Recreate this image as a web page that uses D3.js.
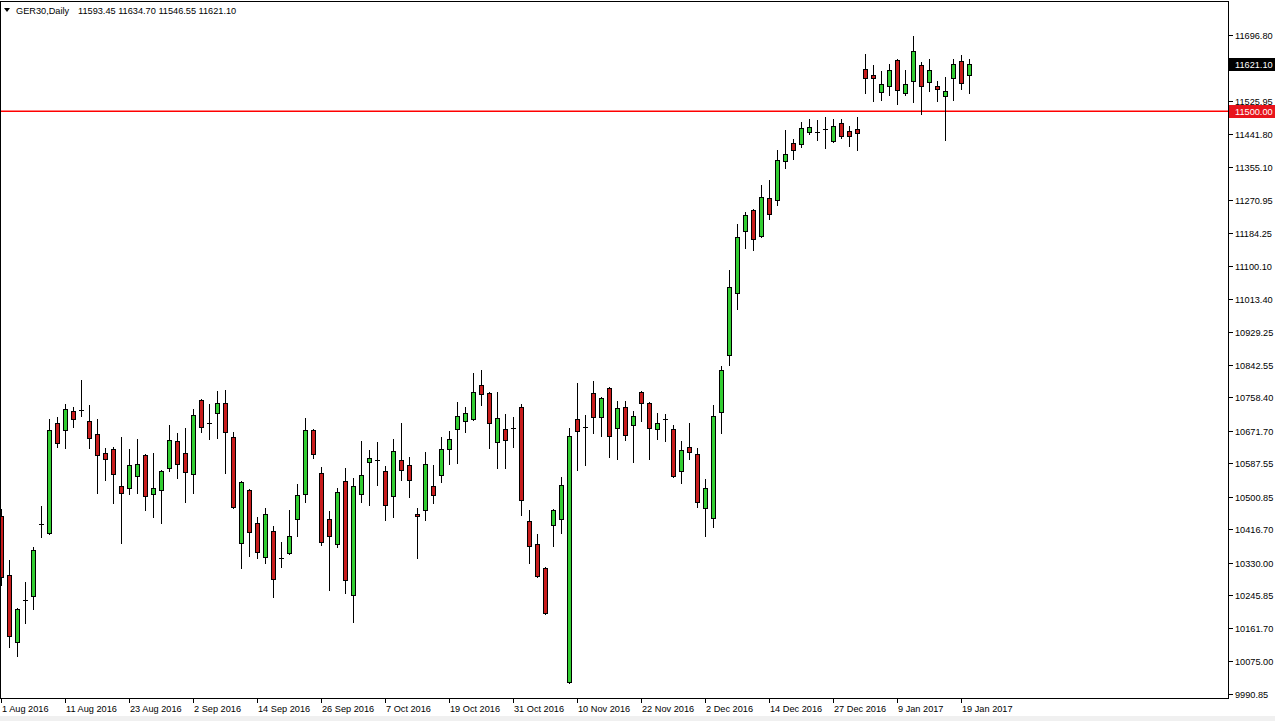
<!DOCTYPE html>
<html>
<head>
<meta charset="utf-8">
<script src="https://cdn.jsdelivr.net/npm/d3@7"></script>
<style>
  html, body { margin: 0; padding: 0; background: #ffffff; }
  svg { display: block; }
  text { font-family: "Liberation Sans", "DejaVu Sans", sans-serif; }
</style>
</head>
<body>
<svg id="chart" width="1275" height="721"></svg>
<script>
// ---------------- DATA ----------------
const symbol = "GER30,Daily";
const opens = [10451.6,10298.9,10125.5,10234.2,10244.5,10430.9,10407.6,10692.4,10674.3,10723.4,
10726.0,10697.6,10663.9,10614.7,10625.1,10529.3,10524.1,10555.2,10609.5,10508.6,
10518.9,10575.9,10645.8,10614.7,10560.4,10751.9,10692.4,10718.3,10744.2,10656.1,
10381.7,10518.9,10433.5,10345.5,10412.8,10342.9,10355.9,10443.9,10508.6,10674.3,
10562.9,10443.9,10379.2,10542.2,10247.1,10508.6,10591.4,10596.6,10568.1,10503.4,
10596.6,10583.7,10456.8,10467.2,10529.3,10557.8,10625.1,10676.9,10697.6,10702.7,
10790.8,10770.0,10643.2,10676.9,10679.4,10733.8,10438.7,10379.2,10317.0,10428.3,
10443.9,10021.9,10702.7,10682.0,10770.0,10707.9,10783.0,10679.4,10733.8,10687.2,
10772.6,10744.2,10676.9,10702.7,10676.9,10568.1,10630.3,10612.1,10472.3,10446.5,
10720.9,10868.4,11028.9,11189.4,11243.8,11176.5,11274.8,11269.7,11370.6,11417.2,
11414.6,11445.7,11445.7,11453.5,11422.4,11469.0,11448.3,11453.5,11608.8,11593.3,
11549.2,11564.8,11632.1,11546.7,11577.7,11619.1,11575.1,11564.8,11538.9,11585.5,
11629.5,11593.45];
const highs = [10469.8,10337.7,10213.5,10280.8,10371.4,10477.5,10702.7,10707.9,10741.6,10733.8,
10803.7,10739.0,10702.7,10627.7,10630.3,10656.1,10625.1,10651.0,10612.1,10614.7,
10570.7,10687.2,10666.5,10679.4,10728.6,10754.5,10741.6,10775.2,10777.8,10669.1,
10542.2,10521.5,10449.0,10472.3,10425.7,10384.3,10467.2,10534.5,10705.3,10676.9,
10578.5,10464.6,10524.1,10575.9,10550.0,10645.8,10622.5,10643.2,10581.1,10651.0,
10692.4,10604.4,10472.3,10617.3,10583.7,10656.1,10671.7,10746.7,10733.8,10821.8,
10829.6,10772.6,10772.6,10715.7,10707.9,10741.6,10467.2,10405.0,10319.6,10469.8,
10552.6,10679.4,10795.9,10713.1,10801.1,10759.7,10785.6,10749.3,10749.3,10723.4,
10775.2,10746.7,10718.3,10715.7,10687.2,10645.8,10692.4,10627.7,10547.4,10739.0,
10839.9,11088.5,11207.5,11238.6,11246.4,11308.5,11321.4,11399.1,11450.9,11427.6,
11471.6,11479.3,11476.8,11484.5,11479.3,11479.3,11461.2,11484.5,11647.6,11619.1,
11603.6,11621.7,11634.7,11606.2,11694.2,11626.9,11634.7,11577.7,11588.1,11634.7,
11645.0,11634.70];
const lows = [10273.0,10112.5,10089.2,10174.6,10210.9,10397.3,10405.0,10630.3,10627.7,10682.0,
10710.5,10627.7,10511.2,10544.8,10485.3,10381.7,10508.6,10511.2,10467.2,10449.0,
10433.5,10568.1,10550.0,10487.9,10511.2,10669.1,10651.0,10653.6,10562.9,10472.3,
10317.0,10348.1,10342.9,10330.0,10242.0,10319.6,10353.3,10399.9,10487.9,10601.8,
10376.6,10260.1,10371.4,10252.3,10177.2,10487.9,10480.1,10531.9,10441.3,10449.0,
10544.8,10500.8,10342.9,10441.3,10485.3,10539.6,10586.2,10588.8,10669.1,10700.2,
10739.0,10627.7,10575.9,10575.9,10630.3,10454.2,10330.0,10293.7,10197.9,10374.0,
10407.6,10019.3,10570.7,10583.7,10666.5,10658.7,10604.4,10599.2,10648.4,10591.4,
10697.6,10599.2,10651.0,10645.8,10552.6,10537.1,10599.2,10474.9,10399.9,10423.2,
10666.5,10842.5,10987.5,11145.4,11140.2,11173.9,11220.5,11256.7,11352.5,11375.8,
11406.9,11440.5,11425.0,11404.3,11419.8,11430.2,11409.5,11399.1,11546.7,11525.9,
11528.5,11541.5,11518.2,11541.5,11523.4,11492.3,11551.8,11525.9,11425.0,11528.5,
11557.0,11546.55];
const closes = [10293.7,10141.0,10210.9,10234.2,10363.6,10430.9,10674.3,10640.6,10728.6,10702.7,
10726.0,10653.6,10609.5,10599.2,10560.4,10511.2,10583.7,10586.2,10503.4,10524.1,
10568.1,10648.4,10586.2,10565.5,10713.1,10682.0,10692.4,10744.2,10669.1,10474.9,
10539.6,10410.2,10358.4,10456.8,10288.5,10342.9,10399.9,10506.0,10674.3,10612.1,
10384.3,10399.9,10513.8,10286.0,10529.3,10557.8,10601.8,10596.6,10480.1,10619.9,
10570.7,10544.8,10451.6,10586.2,10506.0,10625.1,10651.0,10710.5,10718.3,10772.6,
10767.5,10692.4,10705.3,10648.4,10679.4,10493.1,10374.0,10296.3,10200.5,10467.2,
10531.9,10658.7,10671.7,10682.0,10707.9,10757.1,10658.7,10731.2,10661.3,10710.5,
10744.2,10679.4,10692.4,10702.7,10555.2,10622.5,10617.3,10487.9,10524.1,10710.5,
10829.6,11044.4,11173.9,11230.8,11168.7,11277.4,11233.4,11373.2,11388.7,11399.1,
11456.1,11458.6,11445.7,11453.5,11461.2,11435.3,11435.3,11443.1,11585.5,11585.5,
11570.0,11606.2,11554.4,11570.0,11655.4,11564.8,11606.2,11557.0,11551.8,11621.7,
11572.5,11621.10];

const xTickIndex  = [0,8,16,24,32,40,48,56,64,72,80,88,96,104,112,120];
const xTickLabels = ["1 Aug 2016","11 Aug 2016","23 Aug 2016","2 Sep 2016","14 Sep 2016","26 Sep 2016",
  "7 Oct 2016","19 Oct 2016","31 Oct 2016","10 Nov 2016","22 Nov 2016","2 Dec 2016",
  "14 Dec 2016","27 Dec 2016","9 Jan 2017","19 Jan 2017"];
const yTickValues = [9990.85,10075.00,10161.70,10245.85,10330.00,10416.70,10500.85,10587.55,
  10671.70,10758.40,10842.55,10929.25,11013.40,11100.10,11184.25,11270.95,11355.10,
  11441.80,11525.95,11696.80];
const hLineLevel = 11500.00;

// ---------------- LAYOUT ----------------
const W = 1275, H = 721;
const plot = { left: 0, top: 1, right: 1228, bottom: 698 };
const FS = "9.2px";
const svg = d3.select("#chart");

const n = closes.length;
const x = d3.scaleLinear().domain([0, n - 1]).range([1, 1 + 8 * (n - 1)]);
const y = d3.scaleLinear().domain([9990.85, 11696.80]).range([694, 35]);

const GREEN = "#32cd32", RED = "#c81c1c", EDGE = "#000000";

svg.append("rect").attr("width", W).attr("height", H).attr("fill", "#ffffff");
svg.append("rect").attr("x", 0).attr("y", 716).attr("width", W).attr("height", 5).attr("fill", "#f0f0f0");

svg.append("clipPath").attr("id", "pclip").append("rect")
  .attr("x", plot.left + 1).attr("y", plot.top + 1)
  .attr("width", plot.right - plot.left - 1).attr("height", plot.bottom - plot.top - 1);

const g = svg.append("g").attr("clip-path", "url(#pclip)");

// horizontal level line
g.append("rect")
  .attr("x", plot.left).attr("width", plot.right - plot.left)
  .attr("y", Math.round(y(hLineLevel)) - 0.5).attr("height", 1.5)
  .attr("fill", "#ff0000");

const idx = d3.range(n);
const py = v => Math.round(y(v));

// wicks
g.selectAll("line.wick").data(idx).join("line").attr("class", "wick")
  .attr("x1", i => Math.round(x(i)) + 0.5).attr("x2", i => Math.round(x(i)) + 0.5)
  .attr("y1", i => py(highs[i])).attr("y2", i => py(lows[i]) + 1)
  .attr("stroke", EDGE).attr("stroke-width", 1);

// bodies
const bodyIdx = idx.filter(i => Math.abs(py(opens[i]) - py(closes[i])) >= 1);
g.selectAll("rect.body").data(bodyIdx).join("rect").attr("class", "body")
  .attr("x", i => Math.round(x(i)) - 1.5)
  .attr("y", i => Math.min(py(opens[i]), py(closes[i])) + 0.5)
  .attr("width", 4)
  .attr("height", i => Math.abs(py(opens[i]) - py(closes[i])))
  .attr("fill", i => closes[i] >= opens[i] ? GREEN : RED)
  .attr("stroke", EDGE).attr("stroke-width", 1);

// doji
const dojiIdx = idx.filter(i => Math.abs(py(opens[i]) - py(closes[i])) < 1);
g.selectAll("line.doji").data(dojiIdx).join("line").attr("class", "doji")
  .attr("x1", i => Math.round(x(i)) - 2).attr("x2", i => Math.round(x(i)) + 3)
  .attr("y1", i => py(closes[i]) + 0.5).attr("y2", i => py(closes[i]) + 0.5)
  .attr("stroke", EDGE).attr("stroke-width", 1);

// frame
svg.append("rect")
  .attr("x", plot.left + 0.5).attr("y", plot.top + 0.5)
  .attr("width", plot.right - plot.left).attr("height", plot.bottom - plot.top)
  .attr("fill", "none").attr("stroke", "#000").attr("stroke-width", 1);

// y axis ticks & labels
const yAxis = svg.append("g");
yTickValues.forEach(v => {
  const yy = py(v) + 0.5;
  yAxis.append("line").attr("x1", plot.right + 1).attr("x2", plot.right + 5)
    .attr("y1", yy).attr("y2", yy).attr("stroke", "#000");
  yAxis.append("text").attr("x", 1235).attr("y", yy + 3.5)
    .attr("font-size", FS).attr("fill", "#000").text(v.toFixed(2));
});

// price tags
function tag(v, bg) {
  const yy = py(v) + 0.5;
  svg.append("rect").attr("x", plot.right + 1).attr("y", yy - 6.5)
    .attr("width", W - plot.right - 1).attr("height", 13).attr("fill", bg);
  svg.append("text").attr("x", 1235).attr("y", yy + 3.5)
    .attr("font-size", FS).attr("fill", "#fff").text(v.toFixed(2));
}
tag(hLineLevel, "#e8141c");
tag(closes[n - 1], "#000000");

// x axis ticks & labels
const xAxis = svg.append("g");
xTickIndex.forEach((ti, k) => {
  const xx = Math.round(x(ti)) + 0.5;
  xAxis.append("line").attr("x1", xx).attr("x2", xx)
    .attr("y1", plot.bottom + 1).attr("y2", plot.bottom + 5).attr("stroke", "#000");
  xAxis.append("text").attr("x", xx + 0.5).attr("y", 712)
    .attr("font-size", FS).attr("fill", "#000").text(xTickLabels[k]);
});

// header
svg.append("path").attr("d", "M4,8 L10,8 L7,12 Z").attr("fill", "#000");
svg.append("text").attr("x", 16).attr("y", 14).attr("font-size", FS).attr("fill", "#000")
  .text(symbol);
svg.append("text").attr("x", 78).attr("y", 14).attr("font-size", FS).attr("fill", "#000")
  .text([opens[n-1], highs[n-1], lows[n-1], closes[n-1]].map(v => v.toFixed(2)).join(" "));
</script>
</body>
</html>
